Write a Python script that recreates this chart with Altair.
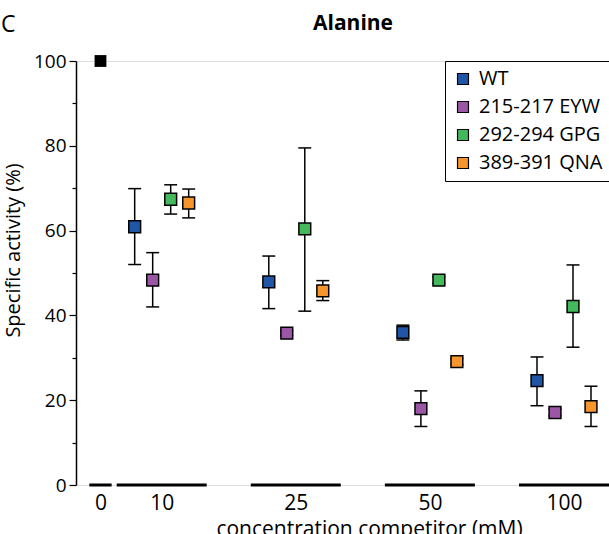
import altair as alt
import pandas as pd

# ---- data ----
groups = ["0", "10", "25", "50", "100"]
series = ["WT", "215-217 EYW", "292-294 GPG", "389-391 QNA"]
colors = ["#2056a8", "#9c56a6", "#43b95c", "#f8962e"]

control_mean = [100.0]
control_lo = [99.6]
control_hi = [100.4]

wt_mean = [60.9, 47.9, 36.0, 24.6]
wt_lo = [52.0, 41.6, 34.2, 18.7]
wt_hi = [69.9, 54.0, 37.7, 30.2]
eyw_mean = [48.3, 35.8, 18.0, 17.1]
eyw_lo = [42.0, 35.3, 13.8, 16.3]
eyw_hi = [54.8, 36.3, 22.2, 17.9]
gpg_mean = [67.4, 60.4, 48.3, 42.1]
gpg_lo = [63.9, 41.0, 47.5, 32.5]
gpg_hi = [70.8, 79.5, 49.1, 51.9]
qna_mean = [66.5, 45.8, 29.1, 18.5]
qna_lo = [63.0, 43.5, 28.4, 13.8]
qna_hi = [69.8, 48.2, 29.8, 23.3]

# ---- layout constants (x-axis slot positions) ----
group_pos = [0.0, 3.4, 10.85, 18.3, 25.75]
series_offset = [-1.5, -0.5, 0.5, 1.5]
seg_half = [0.62, 2.5, 2.5, 2.5, 2.5]
cap_half = 0.36
FONT = "Open Sans"

means = [wt_mean, eyw_mean, gpg_mean, qna_mean]
los = [wt_lo, eyw_lo, gpg_lo, qna_lo]
his = [wt_hi, eyw_hi, gpg_hi, qna_hi]

rows = []
for j, s in enumerate(series):
    for i, g in enumerate(groups[1:]):
        xp = group_pos[i + 1] + series_offset[j]
        rows.append(dict(series=s, conc=g, x=xp, mean=means[j][i],
                         lo=los[j][i], hi=his[j][i]))
df = pd.DataFrame(rows)
df["xl"] = df["x"] - cap_half
df["xr"] = df["x"] + cap_half

ctrl = pd.DataFrame(dict(conc=["0"], x=[group_pos[0]], mean=control_mean,
                         lo=control_lo, hi=control_hi))

seg = pd.DataFrame(dict(conc=groups,
                        xa=[p - h for p, h in zip(group_pos, seg_half)],
                        xb=[p + h for p, h in zip(group_pos, seg_half)],
                        y=[0] * len(groups)))

label_expr = " : ".join(
    f"datum.value == {p} ? '{g}'" for p, g in zip(group_pos, groups)) + " : ''"

xscale = alt.Scale(domain=[-1.36, 28.25], nice=False, zero=False)
yscale = alt.Scale(domain=[0, 100], nice=False)

xaxis = alt.Axis(values=group_pos, labelExpr=label_expr, domain=False,
                 ticks=False, grid=False, labelFontSize=21, labelFont=FONT,
                 labelColor="black", labelPadding=7, labelFlush=False,
                 title="concentration competitor (mM)", titleFontSize=21,
                 titleFont=FONT, titleFontWeight="normal", titleColor="black",
                 titleX=293, titleY=50, titleBaseline="alphabetic")
yaxis = alt.Axis(values=list(range(0, 101, 10)),
                 labelExpr="datum.value % 20 == 0 ? datum.label : ''",
                 tickSize={"condition": {"test": "datum.value % 20 == 0", "value": 7}, "value": 4},
                 tickColor="black", tickWidth=1.2, domainColor="black",
                 domainWidth=1.5, grid=False, labelFontSize=19, labelFont=FONT,
                 labelColor="black", labelPadding=3,
                 title="Specific activity (%)", titleFontSize=20, titleFont=FONT,
                 titleFontWeight="normal", titleColor="black",
                 titleX=-57, titleY=189, titleBaseline="alphabetic")

X = lambda f: alt.X(f"{f}:Q", scale=xscale, axis=xaxis)
Y = lambda f: alt.Y(f"{f}:Q", scale=yscale, axis=yaxis)

segments = alt.Chart(seg).mark_rule(color="black", strokeWidth=3).encode(
    x=X("xa"), x2="xb", y=Y("y"))

bars = alt.Chart(df).mark_rule(color="black", strokeWidth=1.5).encode(
    x=X("x"), y=Y("lo"), y2="hi")
caps_lo = alt.Chart(df).mark_rule(color="black", strokeWidth=1.5).encode(
    x=X("xl"), x2="xr", y=Y("lo"))
caps_hi = alt.Chart(df).mark_rule(color="black", strokeWidth=1.5).encode(
    x=X("xl"), x2="xr", y=Y("hi"))

points = alt.Chart(df).mark_square(size=140, opacity=1, stroke="black",
                                   strokeWidth=1.5, filled=True).encode(
    x=X("x"), y=Y("mean"),
    color=alt.Color("series:N", scale=alt.Scale(domain=series, range=colors),
                    legend=alt.Legend(title=None, orient="none", legendX=369,
                                      legendY=0, strokeColor="black",
                                      fillColor="white", padding=8,
                                      labelFontSize=20, labelFont=FONT,
                                      labelColor="black", symbolType="square",
                                      symbolSize=120, symbolStrokeColor="black",
                                      symbolStrokeWidth=1.2, rowPadding=8,
                                      labelOffset=6)))

control = alt.Chart(ctrl).mark_square(size=140, color="black", opacity=1).encode(
    x=X("x"), y=Y("mean"))

texts = pd.DataFrame({"t": ["C"]})
letter = alt.Chart(texts).mark_text(
    align="left", baseline="alphabetic", fontSize=23, font=FONT,
    color="black").encode(x=alt.value(-75), y=alt.value(-29), text="t:N")

title_df = pd.DataFrame({"t": ["Alanine"]})
title = alt.Chart(title_df).mark_text(
    align="center", baseline="alphabetic", fontSize=21, font=FONT,
    fontWeight="bold", color="black").encode(
    x=alt.value(277), y=alt.value(-31), text="t:N")

chart = alt.layer(segments, bars, caps_lo, caps_hi, points, control, letter, title).properties(
    width=533, height=424,
    autosize=alt.AutoSizeParams(type="none"),
    padding={"left": 76, "top": 61, "right": 0, "bottom": 49},
).configure_view(stroke=None).configure(background="white")

chart.save("out.html", embed_options={"renderer": "svg", "actions": False})
